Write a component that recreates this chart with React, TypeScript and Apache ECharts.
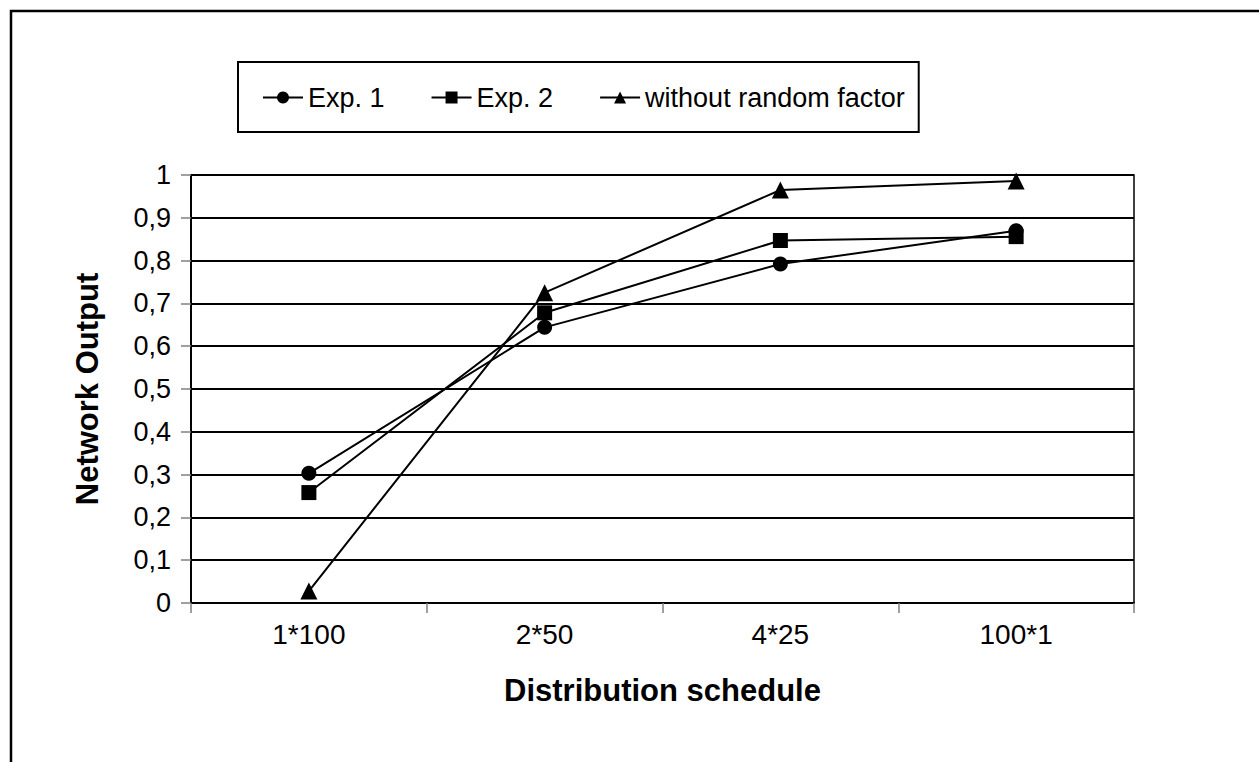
import React, { useEffect, useRef } from "react";
import * as echarts from "echarts";

const categories = ["1*100", "2*50", "4*25", "100*1"];
const exp1 = [0.303, 0.644, 0.792, 0.87];
const exp2 = [0.258, 0.678, 0.847, 0.856];
const withoutRandom = [0.028, 0.725, 0.965, 0.986];
const seriesNames = ["Exp. 1", "Exp. 2", "without random factor"];

const FONT = "Liberation Sans, Arial, sans-serif";

export default function App() {
  const ref = useRef<HTMLDivElement>(null);
  useEffect(() => {
    if (!ref.current) return;
    const chart = echarts.init(ref.current, null, { renderer: "svg" });
    const mk = (name: string, data: number[], symbol: string, size: number) => ({
      name,
      type: "line",
      data,
      symbol,
      symbolSize: size,
      showSymbol: true,
      lineStyle: { color: "#000", width: 2 },
      itemStyle: { color: "#000", borderWidth: 0 },
      emphasis: { disabled: true },
    });
    chart.setOption({
      animation: false,
      backgroundColor: "#fff",
      textStyle: { fontFamily: FONT, color: "#000" },
      graphic: [
        {
          type: "rect",
          shape: { x: 11, y: 11, width: 1400, height: 900 },
          style: { fill: "none", stroke: "#000", lineWidth: 2.5 },
          silent: true,
        },
      ],
      legend: {
        left: 238,
        top: 62,
        padding: [22, 14, 21, 24],
        borderColor: "#000",
        borderWidth: 2,
        itemWidth: 40,
        itemHeight: 15,
        itemGap: 46,
        data: seriesNames,
        textStyle: { fontFamily: FONT, fontSize: 27, color: "#000" },
      },
      grid: {
        left: 191,
        top: 175,
        right: 125,
        bottom: 159,
        show: true,
        borderColor: "#000",
        borderWidth: 1.5,
        backgroundColor: "transparent",
      },
      xAxis: {
        type: "category",
        data: categories,
        boundaryGap: true,
        name: "Distribution schedule",
        nameLocation: "middle",
        nameGap: 72,
        nameTextStyle: { fontFamily: FONT, fontSize: 31, fontWeight: "bold", color: "#000" },
        axisLine: { show: true, lineStyle: { color: "#000", width: 2 } },
        axisTick: { show: true, length: 10, alignWithLabel: false, lineStyle: { color: "#808080", width: 1.5 } },
        axisLabel: { fontFamily: FONT, fontSize: 28, color: "#000", margin: 17 },
        splitLine: { show: false },
      },
      yAxis: {
        type: "value",
        min: 0,
        max: 1,
        interval: 0.1,
        name: "Network Output",
        nameLocation: "middle",
        nameGap: 88,
        nameTextStyle: { fontFamily: FONT, fontSize: 31, fontWeight: "bold", color: "#000" },
        axisLine: { show: true, lineStyle: { color: "#000", width: 2 } },
        axisTick: { show: true, length: 10, lineStyle: { color: "#808080", width: 1.5 } },
        axisLabel: {
          fontFamily: FONT,
          fontSize: 27,
          color: "#000",
          margin: 20,
          formatter: (v: number) => String(Math.round(v * 10) / 10).replace(".", ","),
        },
        splitLine: { show: true, lineStyle: { color: "#000", width: 2 } },
      },
      series: [
        mk(seriesNames[0], exp1, "circle", 15),
        mk(seriesNames[1], exp2, "rect", 15),
        mk(seriesNames[2], withoutRandom, "triangle", 17),
      ],
    });
    return () => chart.dispose();
  }, []);
  return (
    <div
      ref={ref}
      style={{ position: "fixed", left: 0, top: 0, width: 1259, height: 762, background: "#fff" }}
    />
  );
}
